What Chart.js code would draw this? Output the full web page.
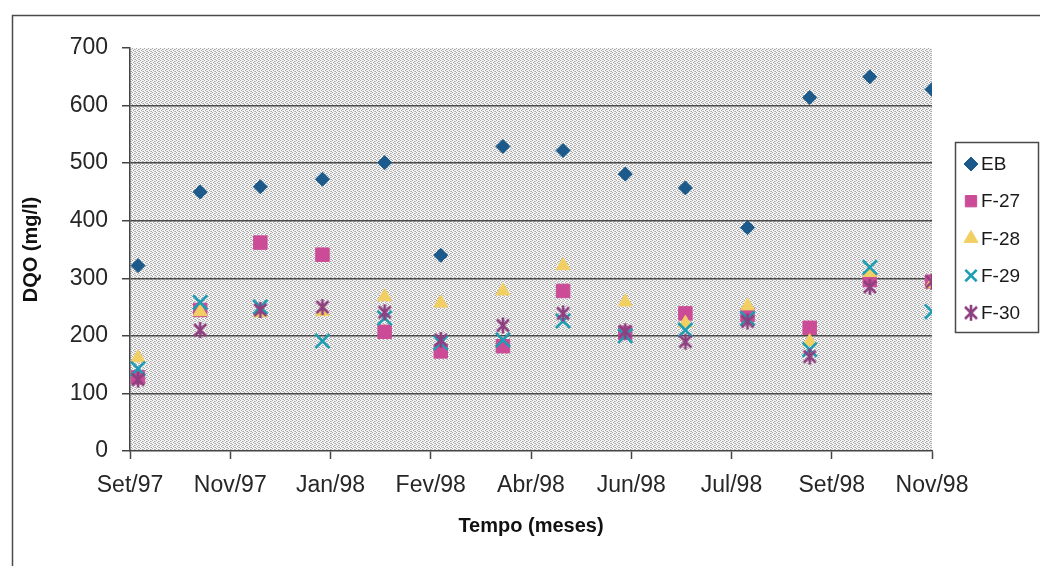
<!DOCTYPE html>
<html>
<head>
<meta charset="utf-8">
<script src="https://cdn.jsdelivr.net/npm/chart.js@4/dist/chart.umd.min.js"></script>
<style>
  html, body { margin: 0; padding: 0; background: #ffffff; }
  #wrap { width: 1040px; height: 566px; position: relative; }
</style>
</head>
<body>
<div id="wrap"><canvas id="c" width="1040" height="566"></canvas></div>
<script>
// Time axis: starts at 28 Sep 1997, one labelled tick every 50 days
const axisOrigin = '1997-09-28';
const tickStepDays = 50;
const tickLabels = ['Set/97', 'Nov/97', 'Jan/98', 'Fev/98', 'Abr/98', 'Jun/98', 'Jul/98', 'Set/98', 'Nov/98'];

// Sampling dates (monthly campaigns)
const sampleDates = ['1997-10-02', '1997-11-02', '1997-12-02', '1998-01-02', '1998-02-02', '1998-03-02',
                     '1998-04-02', '1998-05-02', '1998-06-02', '1998-07-02', '1998-08-02', '1998-09-02',
                     '1998-10-02', '1998-11-02'];

// DQO (mg/l) per series
const seriesNames = ['EB', 'F-27', 'F-28', 'F-29', 'F-30'];
const eb   = [322, 450, 459, 472, 501, 340, 529, 522, 481, 457, 388, 614, 650, 628];
const f27  = [128, 245, 362, 341, 207, 173, 182, 278, 205, 239, 236, 214, 297, 294];
const f28  = [162, 242, 240, 242, 268, 257, 278, 322, 259, 222, 252, 190, 310, 290];
const f29  = [143, 258, 250, 191, 231, 188, 193, 226, 200, 210, 230, 176, 319, 242];
const f30  = [124, 210, 245, 250, 241, 193, 218, 239, 208, 190, 225, 164, 285, 294];

const FONT = "'Liberation Sans', Arial, Helvetica, sans-serif";
const DAY = 86400000;
const originMs = Date.parse(axisOrigin);
const dayOffsets = sampleDates.map(d => (Date.parse(d) - originMs) / DAY);
const toPoints = vals => vals.map((v, i) => ({ x: dayOffsets[i], y: v }));

// Asterisk marker: an X crossed by a vertical bar
function makeStarMarker(color) {
  const s = 20, c = document.createElement('canvas');
  c.width = s; c.height = s;
  const g = c.getContext('2d');
  g.strokeStyle = color; g.lineWidth = 2.6; g.lineCap = 'butt';
  g.beginPath();
  g.moveTo(4, 4); g.lineTo(16, 16);
  g.moveTo(16, 4); g.lineTo(4, 16);
  g.moveTo(10, 2); g.lineTo(10, 18);
  g.stroke();
  return c;
}
const starMarker = makeStarMarker('#8e3f80');

// Stippled plot-area fill (fine scattered grey dots)
function makeStipple() {
  const c = document.createElement('canvas');
  c.width = 4; c.height = 4;
  const g = c.getContext('2d');
  g.fillStyle = '#f4f4f4'; g.fillRect(0, 0, 4, 4);
  g.fillStyle = '#a4a4a4';
  g.fillRect(0, 0, 1, 1); g.fillRect(2, 1, 1, 1);
  g.fillRect(1, 2, 1, 1); g.fillRect(3, 3, 1, 1);
  g.fillStyle = '#c8c8c8';
  g.fillRect(3, 1, 1, 1); g.fillRect(2, 3, 1, 1);
  return c;
}

const frameAndBackground = {
  id: 'frameAndBackground',
  beforeDraw(chart) {
    const { ctx, chartArea: a } = chart;
    ctx.save();
    ctx.fillStyle = '#ffffff';
    ctx.fillRect(0, 0, chart.width, chart.height);
    ctx.strokeStyle = '#4a4a4a';
    ctx.lineWidth = 1.5;
    ctx.strokeRect(12.5, 15.5, 1100, 700);
    ctx.fillStyle = ctx.createPattern(makeStipple(), 'repeat');
    ctx.fillRect(a.left, a.top, a.right - a.left, a.bottom - a.top);
    ctx.restore();
  }
};

const boxedLegend = {
  id: 'boxedLegend',
  afterDraw(chart) {
    const { ctx } = chart;
    const box = { x: 955, y: 142, w: 83, h: 190 };
    ctx.save();
    ctx.fillStyle = '#ffffff';
    ctx.fillRect(box.x, box.y, box.w, box.h);
    ctx.strokeStyle = '#4a4a4a';
    ctx.lineWidth = 1.5;
    ctx.strokeRect(box.x + 0.5, box.y + 0.5, box.w, box.h);
    const sets = chart.data.datasets;
    sets.forEach((ds, i) => {
      const cy = 164 + i * 37.2;
      const cx = 971;
      ctx.fillStyle = ds.backgroundColor;
      ctx.strokeStyle = ds.borderColor;
      ctx.lineWidth = ds.borderWidth;
      const r = Math.min(ds.pointRadius, 8);
      if (Chart.helpers && Chart.helpers.drawPoint) {
        Chart.helpers.drawPoint(ctx, { pointStyle: ds.pointStyle, radius: r, rotation: 0, borderWidth: ds.borderWidth }, cx, cy);
      }
      ctx.fillStyle = '#1a1a1a';
      ctx.font = '19px ' + FONT;
      ctx.textAlign = 'left';
      ctx.textBaseline = 'middle';
      ctx.fillText(ds.label, 981, cy + 1);
    });
    ctx.restore();
  }
};

new Chart(document.getElementById('c'), {
  type: 'scatter',
  data: {
    datasets: [
      { label: seriesNames[0], data: toPoints(eb), pointStyle: 'rectRot', pointRadius: 7, pointHoverRadius: 7,
        backgroundColor: '#1b5a8a', borderColor: '#1b5a8a', borderWidth: 1, order: 4 },
      { label: seriesNames[1], data: toPoints(f27), pointStyle: 'rect', pointRadius: 9.5, pointHoverRadius: 9.5,
        backgroundColor: '#cb4b96', borderColor: '#cb4b96', borderWidth: 1, order: 3 },
      { label: seriesNames[2], data: toPoints(f28), pointStyle: 'triangle', pointRadius: 8, pointHoverRadius: 8,
        backgroundColor: '#f2cf63', borderColor: '#f2cf63', borderWidth: 1, order: 2 },
      { label: seriesNames[3], data: toPoints(f29), pointStyle: 'crossRot', pointRadius: 10, pointHoverRadius: 10,
        backgroundColor: '#1e9db4', borderColor: '#1e9db4', borderWidth: 2.6, order: 1 },
      { label: seriesNames[4], data: toPoints(f30), pointStyle: starMarker, pointRadius: 9, pointHoverRadius: 9,
        backgroundColor: '#8e3f80', borderColor: '#8e3f80', borderWidth: 2.4, order: 0 }
    ]
  },
  options: {
    responsive: false,
    animation: false,
    devicePixelRatio: 1,
    layout: { padding: { top: 48, right: 108, left: 0, bottom: 0 } },
    plugins: { legend: { display: false }, tooltip: { enabled: false } },
    scales: {
      x: {
        type: 'linear',
        position: 'bottom',
        min: 0,
        max: tickStepDays * (tickLabels.length - 1),
        afterFit: s => { s.height = 115; },
        ticks: {
          stepSize: tickStepDays,
          autoSkip: false,
          maxRotation: 0,
          padding: 13,
          color: '#262626',
          font: { family: FONT, size: 23 },
          callback: (v) => tickLabels[Math.round(v / tickStepDays)]
        },
        grid: { drawOnChartArea: false, drawTicks: true, tickLength: 8, tickColor: '#444', tickWidth: 1.5 },
        border: { display: true, color: '#444', width: 1.5 },
        title: { display: true, text: 'Tempo (meses)', color: '#111',
                 font: { family: FONT, size: 20, weight: 'bold' }, padding: { top: 0, bottom: 28 } }
      },
      y: {
        min: 0,
        max: 700,
        afterFit: s => { s.width = 130; },
        ticks: { stepSize: 100, padding: 14, color: '#262626', font: { family: FONT, size: 23 } },
        grid: {
          color: c => (c.tick && c.tick.value > 0 && c.tick.value < 700) ? '#4a4a4a' : 'rgba(0,0,0,0)',
          lineWidth: 1.5,
          tickLength: 8,
          tickColor: '#444',
          tickWidth: 1.5
        },
        border: { display: true, color: '#444', width: 1.5 },
        title: { display: true, text: 'DQO (mg/l)', color: '#111',
                 font: { family: FONT, size: 20, weight: 'bold' }, padding: { top: 19, bottom: 0 } }
      }
    }
  },
  plugins: [frameAndBackground, boxedLegend]
});
</script>
</body>
</html>
